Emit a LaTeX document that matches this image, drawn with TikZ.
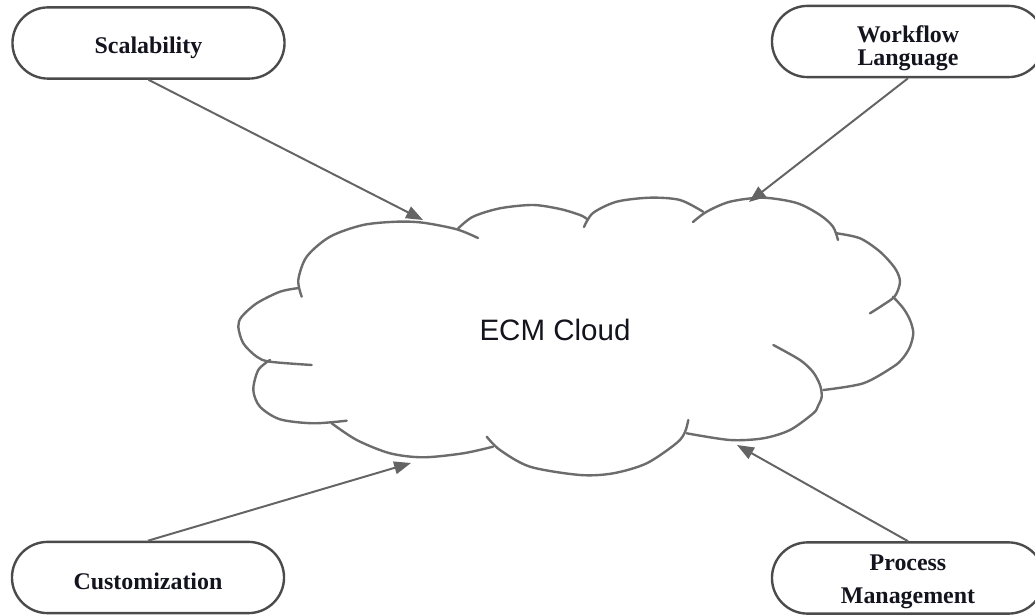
\documentclass[tikz,border=0pt]{standalone}
\usepackage{fontspec}
\setmainfont{Liberation Serif}
\newfontfamily\cloudfont{Liberation Sans}
\usetikzlibrary{shapes.misc,arrows.meta}
\definecolor{pillline}{RGB}{75,75,75}
\definecolor{cloudline}{RGB}{108,108,108}
\definecolor{arrline}{RGB}{100,100,100}
\definecolor{txt}{RGB}{20,20,30}
\begin{document}
\begin{tikzpicture}[x=0.025cm,y=-0.025cm,
  pill/.style={rounded rectangle, draw=pillline, line width=1.7pt,
    minimum width=6.8cm, minimum height=1.78cm, inner sep=0pt},
  lbl/.style={align=center, font=\fontsize{17}{16.5}\selectfont\bfseries, text=txt},
  arr/.style={draw=arrline, line width=1.4pt, -{Triangle[length=12pt,width=9pt]}},
  lobe/.style={draw=cloudline, line width=1.7pt, line cap=round}]

\useasboundingbox[fill=white] (0,0) rectangle (1035,616);

% pills
\node[pill, label={[lbl, yshift=-3.2pt]center:Scalability}] (scal) at (148.5,43) {};
\node[pill, label={[lbl, yshift=-4.7pt]center:Workflow\\Language}] (wfl) at (908,41.5) {};
\node[pill, label={[lbl, yshift=-2.8pt]center:Customization}] (cust) at (148,577.5) {};
\node[pill, label={[lbl, yshift=-2.5pt, font=\fontsize{17}{23.5}\selectfont\bfseries]center:Process\\Management}] (pm) at (908,578) {};

% cloud
\draw[lobe] plot[smooth] coordinates {(299,288) (280,291.7) (256.7,303.3) (241.7,316.7) (238.3,326.7) (243.3,343.3) (256.7,356.7) (270,361.7) (311.7,365)};
\draw[lobe] plot[smooth] coordinates {(301.7,296.7) (298.3,280) (306.7,256.7) (330,236.7) (363,225) (396.7,221.7) (423,222.7) (456.7,229.3) (478,238)};
\draw[lobe] plot[smooth] coordinates {(458.3,228.3) (473,216.7) (500,208.3) (533,205) (560,209) (580,215) (587,219)};
\draw[lobe] plot[smooth] coordinates {(584,227) (593,213) (616.7,201.7) (650,197.7) (680,200) (703,211.7)};
\draw[lobe] plot[smooth] coordinates {(693,222) (706.7,211.7) (730,201.7) (763,197.7) (796.7,203) (820,215) (833,226.7) (838,240)};
\draw[lobe] plot[smooth] coordinates {(836.7,233.3) (860,238.3) (880,251.7) (895,268.3) (900,281.7) (895,296) (883,305) (870,313.3)};
\draw[lobe] plot[smooth] coordinates {(893,296.7) (903.3,308.3) (910,320) (913.3,333) (910,346.7) (903,358) (893.3,366.7) (863.3,383.3) (823.3,390)};
\draw[lobe] plot[smooth] coordinates {(773.3,345) (800,360) (813,372) (820,385) (821.7,396.7) (818,406) (813.3,413.3) (790,430) (763.3,438.3) (730,440) (686.7,433.3)};
\draw[lobe] plot[smooth] coordinates {(688.3,420) (685,432) (676.7,443) (646.7,463.3) (613.3,473.3) (580,475) (530,466.7) (500,450) (486.7,436.7)};
\draw[lobe] plot[smooth] coordinates {(493,446.7) (463.3,453.3) (423.3,457.3) (390,453.3) (356.7,440) (331.7,423.3)};
\draw[lobe] plot[smooth] coordinates {(270,360) (258.3,370) (253.3,390) (260,406.7) (280,419.3) (313.3,423.3) (346.7,420.7)};

\node[font=\cloudfont\fontsize{21}{25}\selectfont, text=txt] (ecm) at (555,330) {ECM Cloud};

% arrow tips
\coordinate (tS) at (423,220);
\coordinate (tW) at (749,202);
\coordinate (tC) at (411,463);
\coordinate (tP) at (737,445);

\draw[arr] (scal.south) -- (tS);
\draw[arr] (wfl.south) -- (tW);
\draw[arr] (cust.north) -- (tC);
\draw[arr] (pm.north) -- (tP);
\end{tikzpicture}
\end{document}
